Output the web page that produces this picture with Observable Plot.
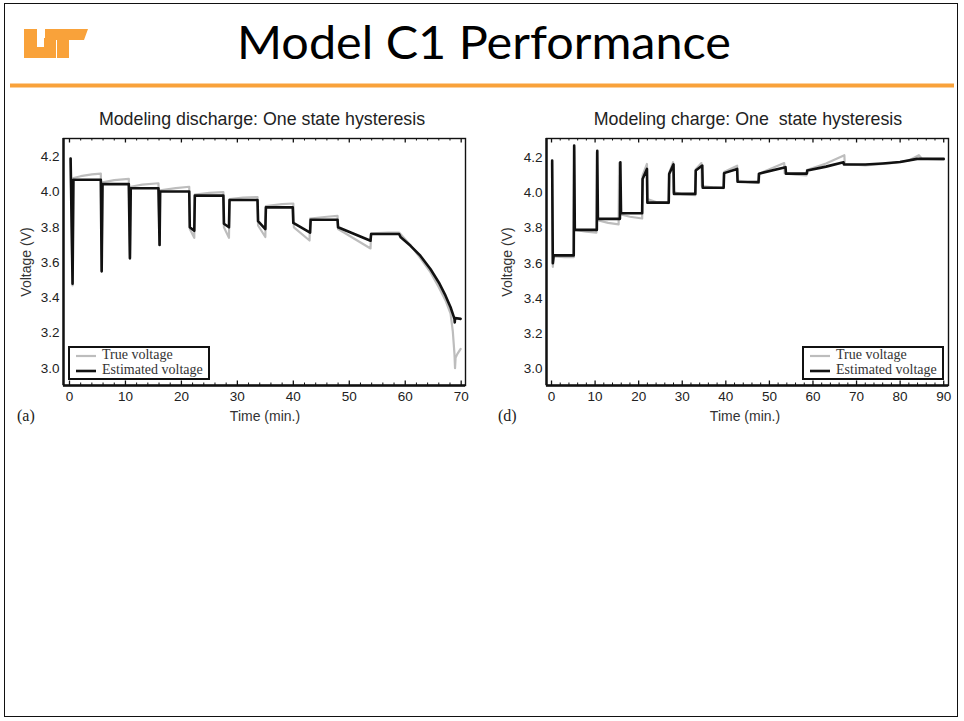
<!DOCTYPE html>
<html>
<head>
<meta charset="utf-8">
<script src="https://cdn.jsdelivr.net/npm/d3@7"></script>
<script src="https://cdn.jsdelivr.net/npm/@observablehq/plot@0.6"></script>
<style>
  html, body { margin: 0; padding: 0; background: #fff; }
  #page { position: relative; width: 964px; height: 721px; overflow: hidden; background: #fff; }
  .abs { position: absolute; }
  .ctitle { font-family: "Liberation Sans", Arial, sans-serif; font-size: 17.8px; color: #222; white-space: pre; transform: translateX(-50%); }
  .xlab { font-family: "Liberation Sans", Arial, sans-serif; font-size: 14px; color: #333; transform: translateX(-50%); white-space: pre; }
  .ylab { font-family: "Liberation Sans", Arial, sans-serif; font-size: 14px; color: #333; transform: translate(-50%,-50%) rotate(-90deg); white-space: pre; }
  .panel { font-family: "Liberation Serif", "Times New Roman", serif; font-size: 16px; color: #222; }
  .legend { box-sizing: border-box; border: 2px solid #111; background: #fff; font-family: "Liberation Serif", "Times New Roman", serif; font-size: 14px; color: #333; }
  .legend div { position: absolute; white-space: pre; }
</style>
</head>
<body>
<div id="page">
  <div class="abs" style="left:4px;top:3px;width:954px;height:714px;box-sizing:border-box;border:1.5px solid #111;"></div>
  <svg class="abs" style="left:0;top:0" width="964" height="90">
    <!-- UT logo -->
    <g fill="#F9A23A">
      <path d="M24,29 L37,29 L37,47 L44,47 L44,38 L56,38 L56,58 L24,58 Z"/>
      <path d="M45,29 L88,29 L84,40 L69,40 L69,58 L57,58 L57,40 L45,40 Z"/>
    </g>
    <text x="484" y="59" text-anchor="middle" font-family="Lato, 'Open Sans', sans-serif" font-size="47" fill="#000" textLength="494" lengthAdjust="spacingAndGlyphs">Model C1 Performance</text>
    <rect x="10" y="83.5" width="944" height="4" fill="#F9A23A"/>
  </svg>
  <div id="left" class="abs" style="left:10px;top:100px;"></div>
  <div id="right" class="abs" style="left:490px;top:100px;"></div>
</div>
<script>
// ---------- DATA ----------
const dischargeTicksX = [0, 10, 20, 30, 40, 50, 60, 70];
const chargeTicksX = [0, 10, 20, 30, 40, 50, 60, 70, 80, 90];
const voltageTicks = [3.0, 3.2, 3.4, 3.6, 3.8, 4.0, 4.2];
const seriesNames = ["True voltage", "Estimated voltage"];

// Discharge: [time (min), voltage (V)]
const dischargeTrue = [
  [0.2,4.19],[0.55,3.47],[0.7,4.08],[2,4.09],[4,4.10],[5.6,4.105],[5.75,3.55],[5.9,4.055],[8,4.068],[10.6,4.075],
  [10.8,3.62],[10.95,4.03],[13,4.042],[15.9,4.05],[16.1,3.70],[16.2,4.01],[19,4.022],[21.4,4.03],[21.5,3.79],[22.3,3.74],
  [22.4,3.985],[25,3.995],[27.5,4.0],[27.6,3.80],[28.5,3.74],[28.6,3.96],[31,3.968],[33.6,3.972],[33.7,3.81],[35.0,3.745],
  [35.1,3.92],[38,3.932],[40.0,3.935],[40.1,3.80],[42.9,3.725],[43.0,3.85],[46,3.86],[47.9,3.865],[48.0,3.79],[53.8,3.68],
  [53.9,3.765],[57,3.77],[58.9,3.77],[60.9,3.70],[62.7,3.625],[64.5,3.545],[66.0,3.46],[67.2,3.385],[68.1,3.31],[68.5,3.21],
  [68.8,3.08],[68.9,3.0],[69.0,3.06],[69.3,3.08],[69.9,3.11]
];
const dischargeEst = [
  [0.2,4.19],[0.55,3.48],[0.7,4.07],[5.6,4.07],[5.75,3.55],[5.9,4.045],[10.6,4.045],[10.8,3.625],[10.95,4.022],[15.9,4.022],
  [16.1,3.70],[16.2,4.003],[21.4,4.003],[21.5,3.80],[22.3,3.78],[22.4,3.98],[27.5,3.98],[27.6,3.82],[28.5,3.80],[28.6,3.955],
  [33.6,3.955],[33.7,3.835],[35.0,3.79],[35.1,3.913],[39.9,3.913],[40.0,3.825],[43.0,3.77],[43.1,3.843],[47.9,3.843],[48.0,3.80],
  [53.8,3.724],[53.9,3.762],[58.9,3.762],[59.2,3.743],[60.95,3.695],[62.7,3.639],[64.5,3.563],[66.0,3.487],[67.2,3.412],[68.1,3.346],
  [68.8,3.28],[68.85,3.26],[68.9,3.285],[69.9,3.28]
];

// Charge: [time (min), voltage (V)]
const chargeTrue = [
  [0.1,4.17],[0.3,3.58],[0.5,3.64],[3,3.635],[5.1,3.635],[5.2,4.26],[5.35,3.79],[8,3.78],[10.3,3.775],[10.4,4.23],
  [10.55,3.845],[13,3.83],[15.4,3.822],[15.5,4.17],[15.65,3.88],[18,3.865],[20.8,3.855],[20.9,4.10],[21.9,4.165],[22.0,3.965],
  [24,3.948],[26.9,3.942],[27.0,4.115],[27.9,4.175],[28.0,4.005],[30,3.993],[33.0,3.988],[33.1,4.135],[34.4,4.17],[34.5,4.04],
  [37,4.032],[39.5,4.027],[39.6,4.12],[42.6,4.155],[42.7,4.07],[45,4.062],[47.6,4.057],[47.7,4.11],[53.4,4.17],[53.5,4.112],
  [56,4.104],[58.5,4.1],[58.6,4.13],[63,4.168],[67.2,4.215],[67.3,4.165],[72,4.157],[78,4.17],[82,4.185],[84.3,4.215],
  [85,4.195],[90,4.19]
];
const chargeEst = [
  [0.15,4.185],[0.3,3.60],[0.5,3.645],[5.1,3.645],[5.2,4.27],[5.35,3.79],[10.4,3.79],[10.5,4.24],[10.65,3.853],[15.7,3.853],
  [15.8,4.175],[15.95,3.885],[20.8,3.885],[20.9,4.08],[21.9,4.137],[22.0,3.945],[26.9,3.945],[27.0,4.108],[28.0,4.163],[28.1,3.995],
  [33.0,3.995],[33.1,4.128],[34.6,4.156],[34.7,4.03],[39.5,4.03],[39.6,4.113],[42.6,4.137],[42.7,4.064],[47.5,4.062],[47.6,4.11],
  [53.7,4.147],[53.8,4.11],[58.6,4.11],[58.7,4.128],[63,4.15],[67.0,4.175],[67.1,4.162],[72,4.162],[76,4.168],[80,4.176],
  [83.9,4.194],[90,4.194]
];

// ---------- CHART ----------
function minorTicks(maxT, step) {
  const out = [];
  for (let t = 0; t <= maxT + 1e-9; t += step) if (Math.abs(t % 10) > 1e-9) out.push(t);
  return out;
}

function makeChart({trueData, estData, xTicks, xDomain, yDomain, width, height, margins}) {
  const [mt, mr, mb, ml] = margins;
  const pxPerV = (height - mt - mb) / (yDomain[1] - yDomain[0]);
  const major = 4.5 / pxPerV, minor = 2.5 / pxPerV;
  const minors = minorTicks(xTicks[xTicks.length - 1], 2);
  const [y0, y1] = yDomain;
  return Plot.plot({
    width, height,
    marginTop: mt, marginRight: mr, marginBottom: mb, marginLeft: ml,
    style: {fontFamily: "'Liberation Sans', Arial, sans-serif", fontSize: "13.5px", color: "#222", background: "transparent", overflow: "visible"},
    x: {domain: xDomain, ticks: xTicks, tickFormat: d3.format("d"), tickSize: 0, tickPadding: 6, label: null},
    y: {domain: yDomain, ticks: voltageTicks, tickFormat: d3.format(".1f"), tickSize: 0, tickPadding: 4, label: null},
    marks: [
      Plot.line(trueData, {x: d => d[0], y: d => d[1], stroke: "#bdbdbd", strokeWidth: 2.2, strokeLinejoin: "round"}),
      Plot.line(estData, {x: d => d[0], y: d => d[1], stroke: "#111", strokeWidth: 2.6, strokeLinejoin: "round"}),
      Plot.ruleX(xTicks, {x: d => d, y1: y0, y2: y0 + major, stroke: "#111", strokeWidth: 1.3}),
      Plot.ruleX(xTicks, {x: d => d, y1: y1, y2: y1 - major, stroke: "#111", strokeWidth: 1.3}),
      Plot.ruleX(minors, {x: d => d, y1: y0, y2: y0 + minor, stroke: "#111", strokeWidth: 1}),
      Plot.ruleX(minors, {x: d => d, y1: y1, y2: y1 - minor, stroke: "#111", strokeWidth: 1}),
      Plot.frame({stroke: "#111", strokeWidth: 1.4}),
      Plot.ruleY([y0], {stroke: "#111", strokeWidth: 2.6}),
      Plot.ruleX([xDomain[0]], {stroke: "#111", strokeWidth: 2.4})
    ]
  });
}

function legendBox(x, y, w, h) {
  const el = document.createElement("div");
  el.className = "legend abs";
  Object.assign(el.style, {left: x + "px", top: y + "px", width: w + "px", height: h + "px"});
  el.innerHTML =
    `<svg style="position:absolute;left:0;top:0" width="${w}" height="${h}">
       <line x1="6" x2="26" y1="8" y2="8" stroke="#bdbdbd" stroke-width="2.2"/>
       <line x1="6" x2="26" y1="23" y2="23" stroke="#111" stroke-width="2.6"/>
     </svg>
     <div style="left:32px;top:-1px">${seriesNames[0]}</div>
     <div style="left:32px;top:14px">${seriesNames[1]}</div>`;
  return el;
}

function addText(cls, x, y, text) {
  const el = document.createElement("div");
  el.className = cls + " abs";
  el.style.left = x + "px"; el.style.top = y + "px";
  el.textContent = text;
  document.getElementById("page").appendChild(el);
}

document.getElementById("left").appendChild(makeChart({
  trueData: dischargeTrue, estData: dischargeEst, xTicks: dischargeTicksX,
  xDomain: [-1.07, 70.77], yDomain: [2.902, 4.304], width: 465, height: 330, margins: [38, 10, 45, 53]
}));
document.getElementById("right").appendChild(makeChart({
  trueData: chargeTrue, estData: chargeEst, xTicks: chargeTicksX,
  xDomain: [-1.15, 91.1], yDomain: [2.905, 4.31], width: 470, height: 330, margins: [38, 12, 45, 56]
}));

const page = document.getElementById("page");
page.appendChild(legendBox(68, 346, 142, 34));
page.appendChild(legendBox(802, 346, 142, 34));

addText("ctitle", 262, 109, "Modeling discharge: One state hysteresis");
addText("ctitle", 748, 109, "Modeling charge: One  state hysteresis");
addText("xlab", 265, 408, "Time (min.)");
addText("xlab", 745, 408, "Time (min.)");
addText("ylab", 26, 262, "Voltage (V)");
addText("ylab", 507, 262, "Voltage (V)");
addText("panel", 17, 407, "(a)");
addText("panel", 498, 407, "(d)");
</script>
</body>
</html>
